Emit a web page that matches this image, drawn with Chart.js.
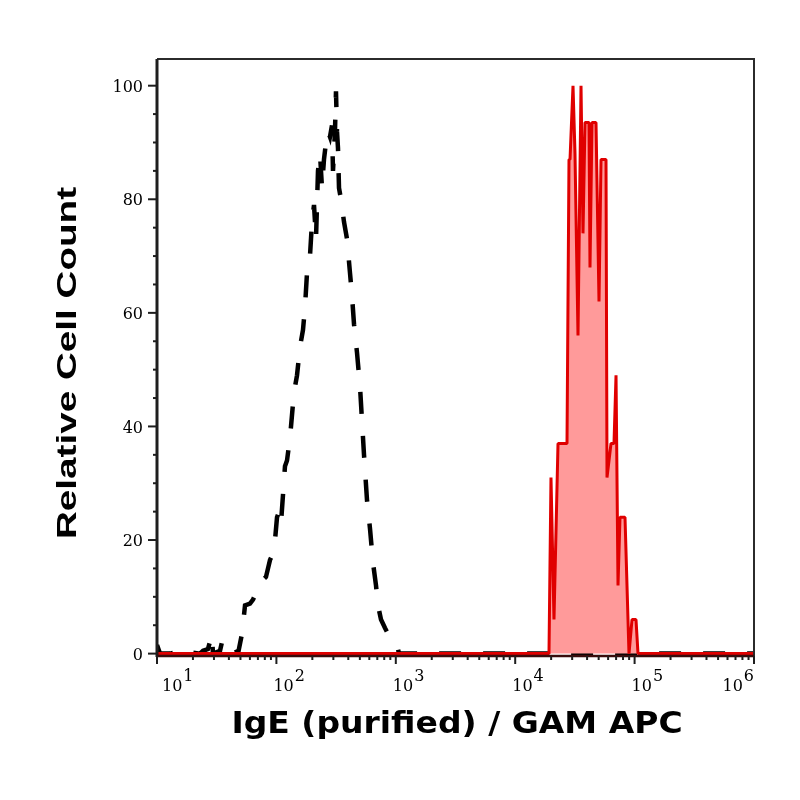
<!DOCTYPE html>
<html><head><meta charset="utf-8">
<script src="https://cdn.jsdelivr.net/npm/chart.js@4/dist/chart.umd.min.js"></script>
<style>html,body{margin:0;padding:0;background:#fff}#wrap{width:800px;height:800px}</style>
</head><body><div id="wrap"><canvas id="c" width="800" height="800"></canvas></div>
<script>
// Isotype control (black dashed) histogram
const isotypeX = [10, 10.6, 12.85, 14.7, 16.5, 17.8, 19.6, 22.9, 24.3, 26.7, 28.9, 29.4, 33.7, 35.0, 39.3, 41.7, 47.7, 51.5, 54.6, 60.1, 63.7, 70.1, 77.2, 81.8, 88.4, 95.5, 101.2, 105.1, 109.3, 113.6, 118.0, 122.7, 130.0, 137.7, 143.2, 148.8, 157.6, 167.0, 173.6, 180.4, 191.1, 198.7, 206.5, 214.6, 223.0, 231.8, 240.9, 250.3, 260.2, 270.4, 281.0, 292.1, 297.8, 309.5, 315.5, 321.7, 328.0, 334.4, 347.5, 368.3, 390.2, 413.5, 429.8, 446.7, 473.2, 501.5, 521.2, 541.7, 574.0, 608.1, 644.3, 682.8, 709.6, 751.6, 812.0, 860.5, 929.4, 984.7, 1023.5, 1063.7, 1000000];
const isotypeY = [1.5, 0, 0, 0.3, 0.8, 0.7, 0.2, 0, 0.5, 0.8, 3.4, 0, 0.5, 2, 2.6, 2.4, 0, 3.5, 8.5, 8.8, 9.5, 11.5, 13, 13.5, 16.5, 18, 24, 25, 23, 28, 33, 34, 38, 44, 47, 49, 54, 57, 61, 67, 70, 76, 79, 73, 85, 88, 82, 87, 90, 92, 91, 93, 85, 92, 99, 92, 89, 82, 80, 76, 73, 67, 63, 58, 53, 47, 41, 35, 27, 22, 16, 12, 8.5, 6, 4.5, 3.5, 2.5, 2, 1.5, 0, 0];
// Stained sample (red filled) histogram
const stainedX = [10, 19190, 19940, 21130, 22830, 27160, 28220, 28780, 30490, 31680, 33570, 35580, 36970, 38420, 41510, 42310, 43970, 47500, 50330, 52320, 57610, 58730, 63440, 67220, 69890, 72620, 75460, 83100, 89760, 95110, 102730, 106780, 1000000];
const stainedY = [0, 0, 31, 6, 37, 37, 87, 87, 100, 88, 56, 100, 74, 93.5, 93.5, 68, 93.5, 93.5, 62, 87, 87, 31, 37, 37, 49, 12, 24, 24, 0, 6, 6, 0, 0];
// Axis ticks and titles
const yTickValues = [0, 20, 40, 60, 80, 100];
const yMinorStep = 5;
const xDecadeExponents = [1, 2, 3, 4, 5, 6];
const xMinorMultipliers = [2, 3, 4, 5, 6, 7, 8, 9];
const xTitle = 'IgE (purified) / GAM APC';
const yTitle = 'Relative Cell Count';

const toPoints = (xs, ys) => xs.map((v, i) => ({x: v, y: ys[i]}));

const axesPlugin = {
  id: 'axesPlugin',
  afterDatasetsDraw(chart) {
    const {ctx, chartArea: a, scales: {x, y}} = chart;
    ctx.save();
    // frame top/right
    ctx.strokeStyle = '#2b2b2b';
    ctx.lineWidth = 2;
    ctx.beginPath();
    ctx.moveTo(a.left, a.top); ctx.lineTo(a.right, a.top); ctx.lineTo(a.right, a.bottom);
    ctx.stroke();
    // left axis
    ctx.lineWidth = 3;
    ctx.strokeStyle = '#1e1e1e';
    ctx.beginPath(); ctx.moveTo(a.left, a.top); ctx.lineTo(a.left, a.bottom + 1); ctx.stroke();
    // bottom axis
    ctx.lineWidth = 2.5;
    ctx.strokeStyle = '#3a0c0c';
    ctx.beginPath(); ctx.moveTo(a.left, a.bottom); ctx.lineTo(a.right, a.bottom); ctx.stroke();

    // y ticks
    const yMax = yTickValues[yTickValues.length - 1];
    ctx.strokeStyle = '#1e1e1e';
    ctx.lineWidth = 2;
    for (let v = yTickValues[0]; v <= yMax; v += yMinorStep) {
      const py = y.getPixelForValue(v);
      const len = yTickValues.includes(v) ? 9 : 4;
      ctx.beginPath(); ctx.moveTo(a.left - len, py); ctx.lineTo(a.left, py); ctx.stroke();
    }
    ctx.fillStyle = '#000';
    ctx.font = '16px "DejaVu Serif"';
    ctx.textAlign = 'right';
    ctx.textBaseline = 'middle';
    yTickValues.forEach(v => {
      ctx.fillText(String(v), a.left - 14, y.getPixelForValue(v) + 2);
    });

    // x ticks
    ctx.lineWidth = 2;
    xDecadeExponents.forEach(e => {
      const major = Math.pow(10, e);
      const px = x.getPixelForValue(major);
      ctx.beginPath(); ctx.moveTo(px, a.bottom); ctx.lineTo(px, a.bottom + 8); ctx.stroke();
      if (e < xDecadeExponents[xDecadeExponents.length - 1]) {
        xMinorMultipliers.forEach(m => {
          const mx = x.getPixelForValue(m * major);
          ctx.beginPath(); ctx.moveTo(mx, a.bottom); ctx.lineTo(mx, a.bottom + 4); ctx.stroke();
        });
      }
    });
    // x labels 10^n
    ctx.textAlign = 'left';
    ctx.textBaseline = 'alphabetic';
    ctx.font = '16px "DejaVu Serif"';
    xDecadeExponents.forEach(e => {
      const px = x.getPixelForValue(Math.pow(10, e));
      const base = '10', ex = String(e);
      const w1 = ctx.measureText(base).width, w2 = ctx.measureText(ex).width;
      const total = w1 + 1 + w2;
      let left = px - 3;
      if (left < a.left + 5) left = a.left + 5;
      if (left + total > a.right) left = a.right - total;
      ctx.fillText(base, left, 691);
      ctx.fillText(ex, left + w1 + 1, 681);
    });

    // titles
    ctx.fillStyle = '#000';
    ctx.textAlign = 'center';
    ctx.textBaseline = 'middle';
    ctx.save();
    ctx.translate(457, 725);
    ctx.scale(1.1, 1);
    ctx.font = 'bold 30px "DejaVu Sans"';
    ctx.fillText(xTitle, 0, 0);
    ctx.restore();
    ctx.save();
    ctx.translate(68, 363);
    ctx.rotate(-Math.PI / 2);
    ctx.scale(1.38, 1);
    ctx.font = 'bold 28px "Liberation Sans"';
    ctx.fillText(yTitle, 0, 0);
    ctx.restore();
    ctx.restore();
  }
};

new Chart(document.getElementById('c'), {
  type: 'line',
  data: {
    datasets: [
      {
        label: 'stained',
        data: toPoints(stainedX, stainedY),
        borderColor: '#e00000',
        borderWidth: 3,
        backgroundColor: '#ff9a9a',
        fill: 'origin',
        borderJoinStyle: 'bevel',
        pointRadius: 0,
        tension: 0
      },
      {
        label: 'isotype',
        data: toPoints(isotypeX, isotypeY),
        borderColor: '#000',
        borderWidth: 4.5,
        borderDash: [22, 22],
        borderCapStyle: 'butt',
        fill: false,
        pointRadius: 0,
        tension: 0
      }
    ]
  },
  options: {
    responsive: false,
    animation: false,
    devicePixelRatio: 1,
    layout: {padding: {left: 157, top: 59, right: 46, bottom: 144}},
    plugins: {legend: {display: false}, tooltip: {enabled: false}},
    scales: {
      x: {type: 'logarithmic', min: 10, max: 1000000, display: false},
      y: {type: 'linear', min: -0.42, max: 104.7, display: false}
    }
  },
  plugins: [axesPlugin]
});
</script>
</body></html>
